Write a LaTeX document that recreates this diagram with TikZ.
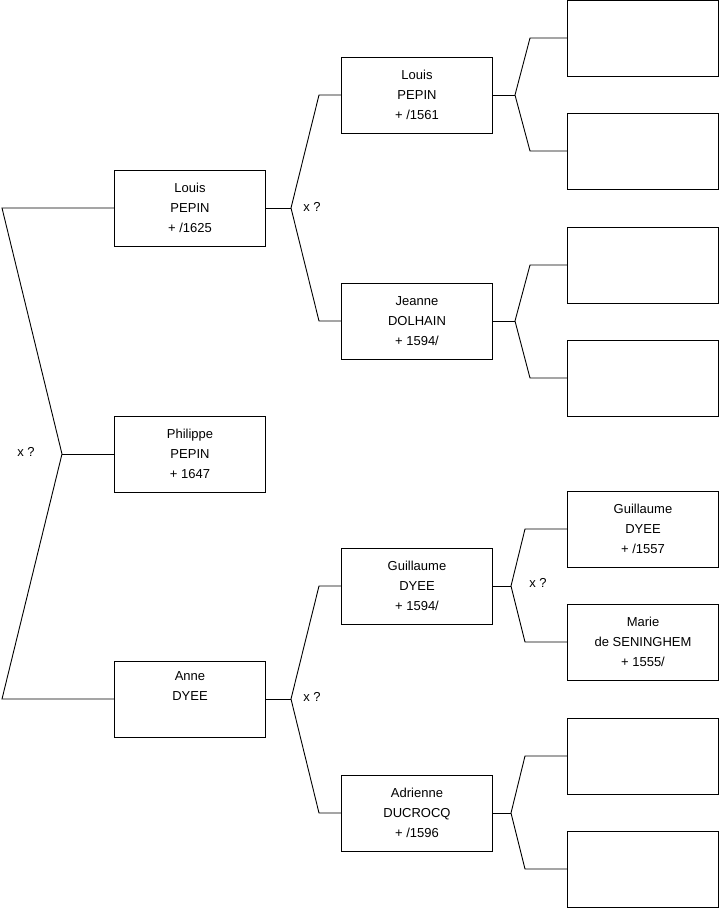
\documentclass[tikz,border=0pt]{standalone}
\usepackage{fontspec}
\setmainfont{Liberation Sans}
\begin{document}
\begin{tikzpicture}[x=1pt,y=-1pt,
    person/.style={draw, line width=0.9pt, minimum width=151pt, minimum height=76pt,
      align=center, inner sep=0pt, font=\fontsize{13}{20}\selectfont},
    link/.style={line width=0.9pt},
    marr/.style={font=\fontsize{13}{14}\selectfont}]
    \useasboundingbox (0,0) rectangle (719,908);
    % Generation 1
    \node[person] (philippe) at (190,454) {Philippe\\PEPIN\\+ 1647};
    % Generation 2
    \node[person] (louisa) at (190,208) {Louis\\PEPIN\\+ /1625};
    \node[person] (anne) at (190,699) {Anne\\DYEE\\\strut};
    % Generation 3
    \node[person] (louisb) at (417,95) {Louis\\PEPIN\\+ /1561};
    \node[person] (jeanne) at (417,321) {Jeanne\\DOLHAIN\\+ 1594/};
    \node[person] (guila) at (417,586) {Guillaume\\DYEE\\+ 1594/};
    \node[person] (adri) at (417,813) {Adrienne\\DUCROCQ\\+ /1596};
    % Generation 4
    \node[person] (p1) at (643,38) {};
    \node[person] (p2) at (643,151) {};
    \node[person] (p3) at (643,265) {};
    \node[person] (p4) at (643,378) {};
    \node[person] (guilb) at (643,529) {Guillaume\\DYEE\\+ /1557};
    \node[person] (marie) at (643,642) {Marie\\de SENINGHEM\\+ 1555/};
    \node[person] (p7) at (643,756) {};
    \node[person] (p8) at (643,869) {};
    % Forks
    \coordinate (j0) at (62,454);
    \coordinate (j1) at (291,208);
    \coordinate (j2) at (291,699);
    \coordinate (j3) at (515,95);
    \coordinate (j4) at (515,321);
    \coordinate (j5) at (511,586);
    \coordinate (j6) at (511,813);
    \draw[link] (louisa.west) -- (2,208) -- (j0) -- (2,699) -- (anne.west);
    \draw[link] (j0) -- (philippe.west);
    \draw[link] (louisa.east) -- (j1);
    \draw[link] (louisb.west) -- (319,95) -- (j1) -- (319,321) -- (jeanne.west);
    \draw[link] (anne.east) -- (j2);
    \draw[link] (guila.west) -- (319,586) -- (j2) -- (319,813) -- (adri.west);
    \draw[link] (louisb.east) -- (j3);
    \draw[link] (p1.west) -- (530,38) -- (j3) -- (530,151) -- (p2.west);
    \draw[link] (jeanne.east) -- (j4);
    \draw[link] (p3.west) -- (530,265) -- (j4) -- (530,378) -- (p4.west);
    \draw[link] (guila.east) -- (j5);
    \draw[link] (guilb.west) -- (525,529) -- (j5) -- (525,642) -- (marie.west);
    \draw[link] (adri.east) -- (j6);
    \draw[link] (p7.west) -- (525,756) -- (j6) -- (525,869) -- (p8.west);
    % Marriage marks
    \node[marr] (m0) at (26,452) {x ?};
    \node[marr] (m1) at (312,207) {x ?};
    \node[marr] (m2) at (312,697) {x ?};
    \node[marr] (m3) at (538,583) {x ?};
\end{tikzpicture}
\end{document}
